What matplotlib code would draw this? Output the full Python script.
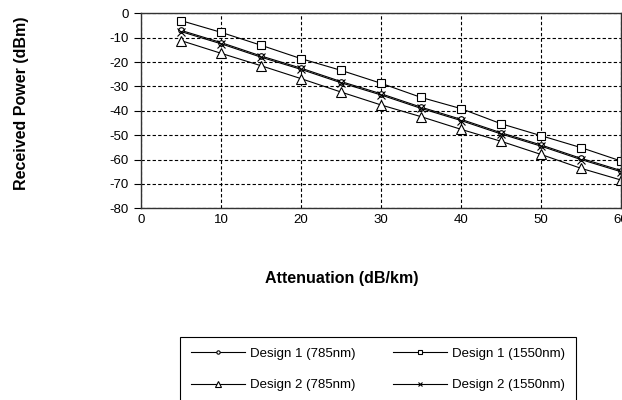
import matplotlib
matplotlib.use("Agg")
from matplotlib import pyplot as plt

plt.rcParams['font.family'] = ['Liberation Sans', 'DejaVu Sans']
plt.rcParams['axes.unicode_minus'] = False

attenuation = [5, 10, 15, 20, 25, 30, 35, 40, 45, 50, 55, 60]
d1_785 = [-7, -12, -17.5, -22.5, -28, -33, -38.5, -43.5, -49, -54, -59.5, -64.5]
d1_1550 = [-3, -7.8, -13.1, -18.6, -23.4, -28.7, -34.5, -39.1, -45.3, -50.2, -55.1, -60.6]
d2_785 = [-11.2, -16.4, -21.5, -26.8, -32.3, -37.6, -42.4, -47.6, -52.5, -57.9, -63.6, -68.4]
d2_1550 = [-7.5, -12.5, -18, -23, -28.5, -33.5, -39, -44, -49.5, -54.5, -60, -65]

fig = plt.figure(figsize=(6.22, 4.0), dpi=100)
ax = fig.add_axes([141 / 622, 1 - 208.3 / 400, 480 / 622, 195 / 400])

l1, = ax.plot(attenuation, d1_785, color='black', lw=0.8, marker='o', ms=4,
              mfc='white', mec='black', mew=0.8, label='Design 1 (785nm)')
l2, = ax.plot(attenuation, d1_1550, color='black', lw=0.8, marker='s', ms=6,
              mfc='white', mec='black', mew=0.8, label='Design 1 (1550nm)')
l3, = ax.plot(attenuation, d2_785, color='black', lw=0.8, marker='^', ms=6.5,
              mfc='white', mec='black', mew=0.8, label='Design 2 (785nm)')
l4, = ax.plot(attenuation, d2_1550, color='black', lw=0.8, marker='x', ms=6,
              mec='black', mew=0.8, label='Design 2 (1550nm)')

ax.set_xlim(0, 60)
ax.set_ylim(-80, 0)
ax.set_xticks(range(0, 61, 10))
ax.set_yticks(range(-80, 1, 10))
ax.tick_params(axis='x', length=0, pad=4, labelsize=9.5)
ax.tick_params(axis='y', length=5, width=0.8, pad=4, labelsize=9.5)
ax.grid(color='black', linestyle=(0, (3, 2)), linewidth=0.8)
for s in ax.spines.values():
    s.set_linewidth(1.0)
    s.set_color('#333333')

fig.text(342 / 622, 1 - 278 / 400, 'Attenuation (dB/km)', fontsize=11.5,
         fontweight='bold', ha='center', va='center')
fig.text(22 / 622, 1 - 103 / 400, 'Received Power (dBm)', fontsize=11.5,
         fontweight='bold', ha='center', va='center', rotation=90)

# column-wise fill, so order handles to give rows: Design 1 / Design 2
leg = fig.legend([l1, l3, l2, l4],
                 [l1.get_label(), l3.get_label(), l2.get_label(), l4.get_label()],
                 loc='upper left', bbox_to_anchor=(180 / 622, 1 - 337 / 400),
                 ncol=2, fontsize=9.5, frameon=True, fancybox=False,
                 edgecolor='black', framealpha=1, markerscale=0.6,
                 handlelength=4.1, columnspacing=2.85, handletextpad=0.4,
                 borderpad=0.8, labelspacing=1.45, borderaxespad=0)
leg.get_frame().set_linewidth(0.8)

fig.savefig('out.png', dpi=100)
